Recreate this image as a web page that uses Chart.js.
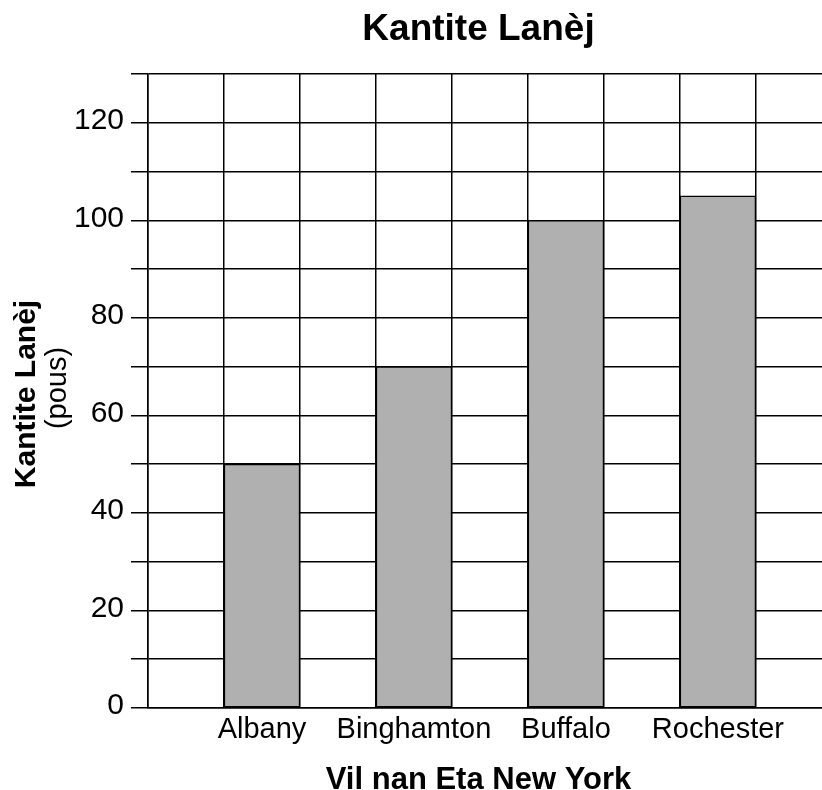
<!DOCTYPE html>
<html>
<head>
<meta charset="utf-8">
<script src="https://cdn.jsdelivr.net/npm/chart.js@4.4.0/dist/chart.umd.min.js"></script>
<style>
  html, body { margin: 0; padding: 0; background: #fff; overflow: hidden; }
  #wrap { width: 822px; height: 790px; position: relative; }
</style>
</head>
<body>
<div id="wrap"><canvas id="c" width="822" height="790"></canvas></div>
<script>
// ---- data ----
const chartTitle = 'Kantite Lanèj';
const xAxisTitle = 'Vil nan Eta New York';
const yAxisTitle = 'Kantite Lanèj';
const yAxisUnit = '(pous)';
const cities = ['Albany', 'Binghamton', 'Buffalo', 'Rochester'];
const snowfall = [50, 70, 100, 105];
const cityPositions = [1.5, 3.5, 5.5, 7.5];
const yTickLabels = [0, 20, 40, 60, 80, 100, 120];
const yMin = 0, yMax = 130, yStep = 10;
const xMin = 0, xMax = 8.87, xStep = 1;

// ---- styles ----
const FONT = "'Liberation Sans', Arial, Helvetica, sans-serif";
const INK = '#000';
const LINE_W = 1.5;

const titlesPlugin = {
  id: 'titles',
  afterDraw(chart) {
    const { ctx, chartArea } = chart;
    const cx = (chartArea.left + chartArea.right) / 2 - 6.5;
    const cy = (chartArea.top + chartArea.bottom) / 2;
    ctx.save();
    ctx.fillStyle = INK;
    ctx.textAlign = 'center';
    ctx.textBaseline = 'alphabetic';
    ctx.font = `bold 37px ${FONT}`;
    ctx.fillText(chartTitle, cx, chartArea.top - 34);
    ctx.font = `bold 31px ${FONT}`;
    ctx.fillText(xAxisTitle, cx, chart.height - 1);
    ctx.save();
    ctx.translate(35, cy + 3);
    ctx.rotate(-Math.PI / 2);
    ctx.font = `bold 30px ${FONT}`;
    ctx.fillText(yAxisTitle, 0, 0);
    ctx.restore();
    ctx.save();
    ctx.translate(66, cy - 3);
    ctx.rotate(-Math.PI / 2);
    ctx.font = `29px ${FONT}`;
    ctx.fillText(yAxisUnit, 0, 0);
    ctx.restore();
    ctx.restore();
  }
};

new Chart(document.getElementById('c'), {
  type: 'bar',
  data: {
    datasets: [{
      data: cities.map((c, i) => ({ x: cityPositions[i], y: snowfall[i] })),
      xAxisID: 'x',
      yAxisID: 'y',
      backgroundColor: '#b0b0b0',
      borderColor: INK,
      borderWidth: LINE_W,
      borderSkipped: false,
      barPercentage: 1,
      categoryPercentage: 1
    }]
  },
  options: {
    responsive: false,
    animation: false,
    layout: { padding: { top: 74, left: 0, right: 0, bottom: 0 } },
    plugins: { legend: { display: false }, tooltip: { enabled: false }, title: { display: false } },
    scales: {
      x: {
        type: 'linear',
        position: 'bottom',
        offset: false,
        min: xMin, max: xMax,
        grid: { color: INK, lineWidth: LINE_W, drawTicks: false, offset: false },
        border: { display: true, color: INK, width: LINE_W },
        ticks: { display: false, stepSize: xStep, includeBounds: false },
        afterFit(scale) { scale.height = 0; }
      },
      xl: {
        type: 'linear',
        position: 'bottom',
        offset: false,
        min: xMin, max: xMax,
        grid: { display: false, drawTicks: false, offset: false },
        border: { display: false },
        afterBuildTicks(scale) { scale.ticks = cityPositions.map(v => ({ value: v })); },
        ticks: {
          autoSkip: false, maxRotation: 0, minRotation: 0,
          padding: 5,
          color: INK,
          font: { family: FONT, size: 29 },
          callback: (v) => cities[cityPositions.indexOf(v)]
        },
        afterFit(scale) { scale.height = 82; }
      },
      y: {
        type: 'linear',
        position: 'left',
        min: yMin, max: yMax,
        grid: { color: INK, lineWidth: LINE_W, drawTicks: true, tickLength: 17, tickColor: INK },
        border: { display: true, color: INK, width: LINE_W },
        ticks: {
          stepSize: yStep,
          padding: 7,
          labelOffset: -2,
          color: INK,
          font: { family: FONT, size: 30 },
          callback: (v) => (yTickLabels.includes(v) ? String(v) : '')
        },
        afterFit(scale) { scale.width = 148; }
      }
    }
  },
  plugins: [titlesPlugin]
});
</script>
</body>
</html>
